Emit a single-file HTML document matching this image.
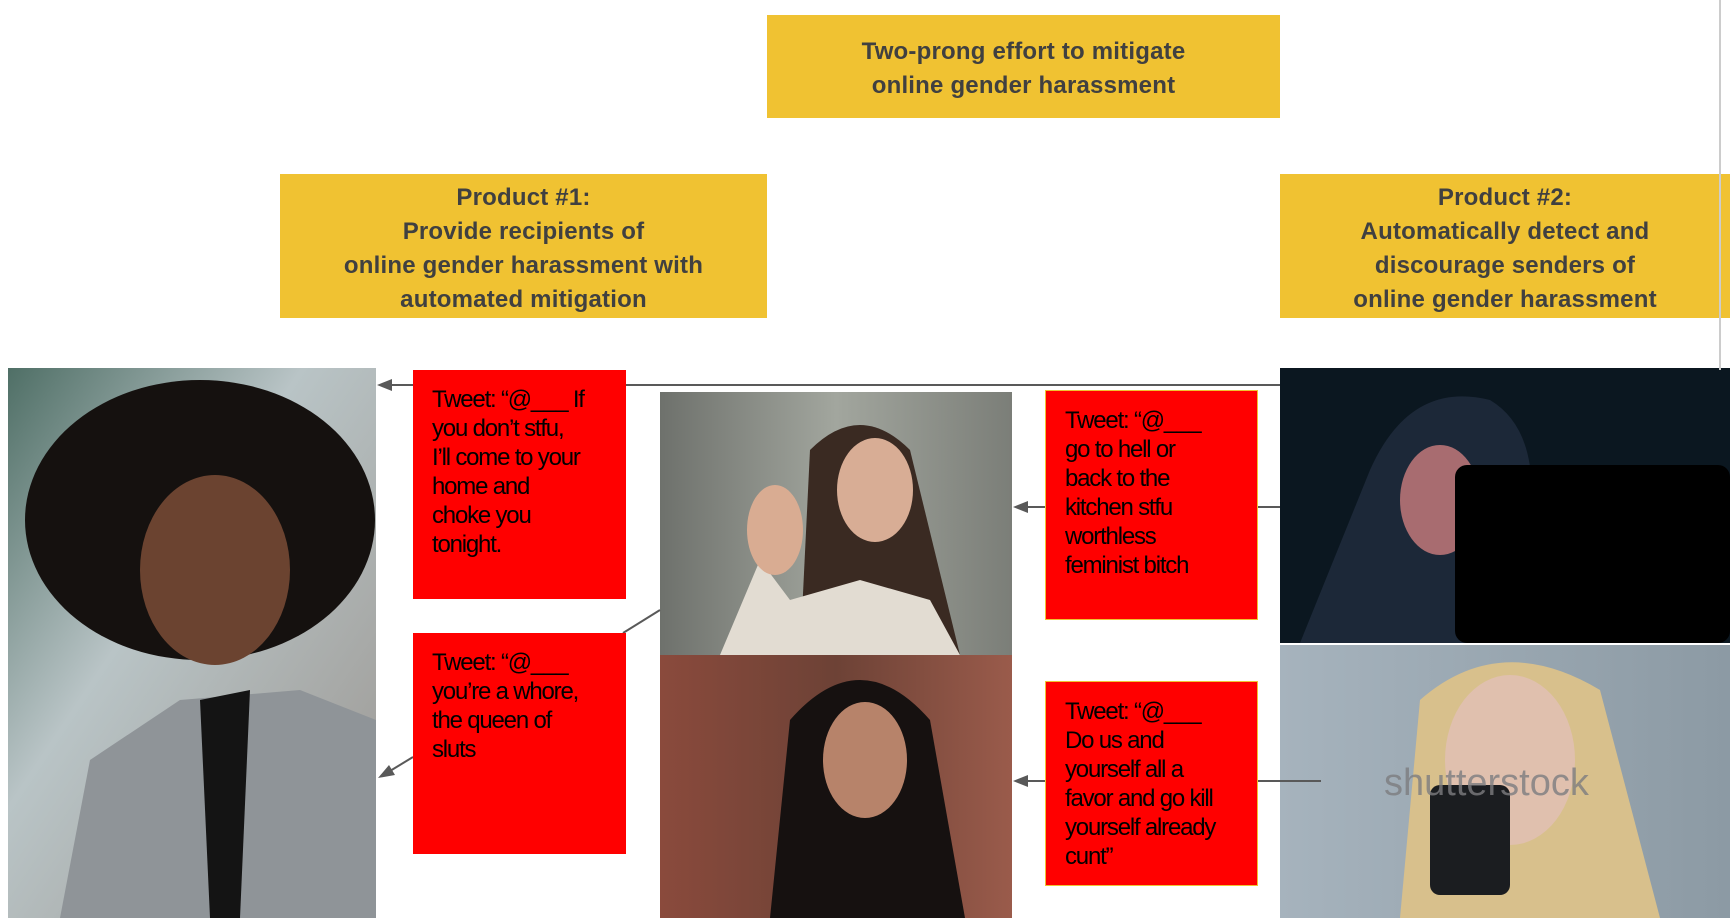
<!DOCTYPE html>
<html><head><meta charset="utf-8"><style>
body{margin:0;width:1730px;height:920px;background:#fff;position:relative;overflow:hidden;font-family:"Liberation Sans",sans-serif}
.y{position:absolute;background:#f0c232;color:#404040;font-weight:bold;font-size:24px;line-height:34px;text-align:center;display:flex;align-items:center;justify-content:center;letter-spacing:0.2px}
.r{position:absolute;background:#ff0000;color:#000;font-size:24px;line-height:29px;padding:15px 0 0 19px;box-sizing:border-box;letter-spacing:-1.2px}
svg{position:absolute;left:0;top:0}
</style></head><body>
<div class="y" style="left:767px;top:15px;width:513px;height:103px;padding-top:4px;box-sizing:border-box">Two-prong effort to mitigate<br>online gender harassment</div>
<div class="y" style="left:280px;top:174px;width:487px;height:144px;padding-top:6px;box-sizing:border-box">Product #1:<br>Provide recipients of<br>online gender harassment with<br>automated mitigation</div>
<div class="y" style="left:1280px;top:174px;width:450px;height:144px;padding-top:6px;box-sizing:border-box">Product #2:<br>Automatically detect and<br>discourage senders of<br>online gender harassment</div>

<svg width="1730" height="920">
<defs>
<linearGradient id="bg1" x1="0" y1="0" x2="1" y2="1"><stop offset="0" stop-color="#4f6f66"/><stop offset="0.4" stop-color="#b9c4c6"/><stop offset="1" stop-color="#9a9590"/></linearGradient>
<linearGradient id="bg2" x1="0" y1="0" x2="1" y2="0"><stop offset="0" stop-color="#6e716c"/><stop offset="0.5" stop-color="#a2a69e"/><stop offset="1" stop-color="#7b7e78"/></linearGradient>
<linearGradient id="bg3" x1="0" y1="0" x2="1" y2="0"><stop offset="0" stop-color="#8a4a3c"/><stop offset="0.5" stop-color="#6d4236"/><stop offset="1" stop-color="#9a5b4b"/></linearGradient>
<linearGradient id="bg4" x1="0" y1="0" x2="1" y2="0"><stop offset="0" stop-color="#a6b3bd"/><stop offset="1" stop-color="#8c9aa4"/></linearGradient>
</defs>
<rect x="8" y="368" width="368" height="550" fill="url(#bg1)"/>
<ellipse cx="200" cy="520" rx="175" ry="140" fill="#15110f"/>
<ellipse cx="215" cy="570" rx="75" ry="95" fill="#6b4330"/>
<path d="M60 918 L90 760 L180 700 L300 690 L376 720 L376 918Z" fill="#8f9498"/>
<path d="M200 700 L250 690 L240 918 L210 918Z" fill="#141414"/>
<rect x="660" y="392" width="352" height="263" fill="url(#bg2)"/>
<path d="M810 450 Q860 400 910 450 L960 655 L800 655Z" fill="#3a2a22"/>
<ellipse cx="875" cy="490" rx="38" ry="52" fill="#d8ad95"/>
<path d="M720 655 L760 560 L790 600 L860 580 L930 600 L960 655Z" fill="#e2dcd2"/>
<ellipse cx="775" cy="530" rx="28" ry="45" fill="#d9ac92"/>
<rect x="660" y="655" width="352" height="263" fill="url(#bg3)"/>
<path d="M790 720 Q860 640 930 720 L965 918 L770 918Z" fill="#161110"/>
<ellipse cx="865" cy="760" rx="42" ry="58" fill="#b7836a"/>
<rect x="1280" y="368" width="450" height="275" fill="#0b1720"/>
<path d="M1370 470 Q1410 380 1490 400 Q1540 430 1530 520 L1560 643 L1300 643 Z" fill="#1c2838"/>
<ellipse cx="1440" cy="500" rx="40" ry="55" fill="#a86c70"/>
<rect x="1455" y="465" width="275" height="178" rx="12" fill="#000"/>
<rect x="1280" y="645" width="450" height="273" fill="url(#bg4)"/>
<path d="M1420 700 Q1500 630 1600 690 L1660 918 L1400 918Z" fill="#d8c08c"/>
<ellipse cx="1510" cy="760" rx="65" ry="85" fill="#e0c0ae"/>
<rect x="1430" y="785" width="80" height="110" rx="10" fill="#1b1d20"/>
<text x="1384" y="795" font-family="Liberation Sans,sans-serif" font-size="38" fill="#7d7d80" opacity="0.8">shutterstock</text>
<line x1="1720" y1="0" x2="1720" y2="370" stroke="#ccc" stroke-width="2"/>
<g stroke="#595959" stroke-width="2" fill="none">
<line x1="1280" y1="385" x2="390" y2="385"/>
<line x1="1258" y1="507" x2="1280" y2="507"/>
<line x1="1045" y1="507" x2="1026" y2="507"/>
<line x1="1258" y1="781" x2="1321" y2="781"/>
<line x1="1045" y1="781" x2="1026" y2="781"/>
<line x1="660" y1="610" x2="623" y2="633"/>
<line x1="413" y1="757" x2="390" y2="771"/>
</g>
<g fill="#595959">
<polygon points="377,385 392,379 392,391"/>
<polygon points="1013,507 1028,501 1028,513"/>
<polygon points="1013,781 1028,775 1028,787"/>
<polygon points="378,778 389,765 395,775"/>
</g>
</svg>

<div class="r" style="left:413px;top:370px;width:213px;height:229px">Tweet: “@___ If<br>you don’t stfu,<br>I’ll come to your<br>home and<br>choke you<br>tonight.</div>
<div class="r" style="left:413px;top:633px;width:213px;height:221px">Tweet: “@___<br>you’re a whore,<br>the queen of<br>sluts</div>
<div class="r" style="left:1045px;top:390px;width:213px;height:230px;border:1px solid #f0c232">Tweet: “@___<br>go to hell or<br>back to the<br>kitchen stfu<br>worthless<br>feminist bitch</div>
<div class="r" style="left:1045px;top:681px;width:213px;height:205px;border:1px solid #f0c232">Tweet: “@___<br>Do us and<br>yourself all a<br>favor and go kill<br>yourself already<br>cunt”</div>
</body></html>
